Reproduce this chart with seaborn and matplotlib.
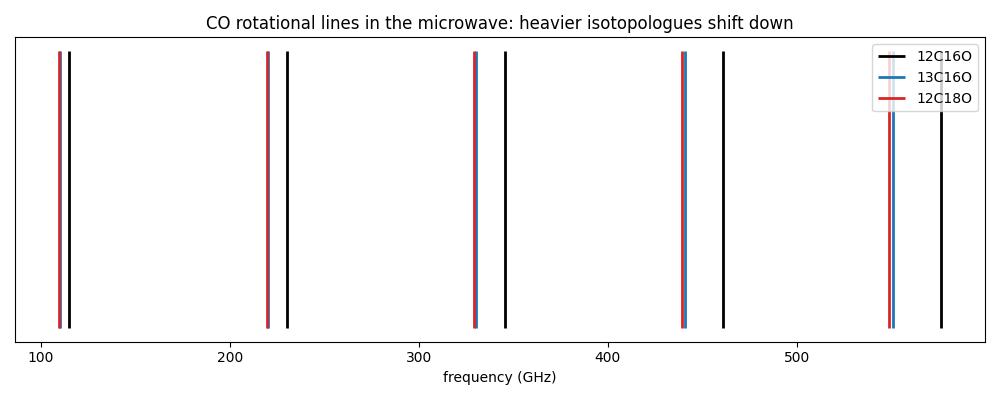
import matplotlib
matplotlib.use("Agg")
import matplotlib.pyplot as plt
import seaborn as sns

isotopologues = ["12C16O", "13C16O", "12C18O"]
freq_12C16O = [115.27, 230.54, 345.80, 461.04, 576.27]
freq_13C16O = [110.20, 220.40, 330.59, 440.77, 550.93]
freq_12C18O = [109.78, 219.56, 329.33, 439.09, 548.83]
colors = ["black", "#1f77b4", "#d62728"]

sns.reset_orig()
plt.rcParams["font.family"] = ["DejaVu Sans"]
fig, ax = plt.subplots(figsize=(10, 4), dpi=100)
for name, freqs, c in zip(isotopologues, [freq_12C16O, freq_13C16O, freq_12C18O], colors):
    ax.vlines(freqs, 0, 1, colors=c, linewidth=2, label=name)
ax.set_yticks([])
ax.set_xlabel("frequency (GHz)")
ax.set_title("CO rotational lines in the microwave: heavier isotopologues shift down")
ax.legend(loc="upper right")
fig.tight_layout()
fig.savefig("out.png")
